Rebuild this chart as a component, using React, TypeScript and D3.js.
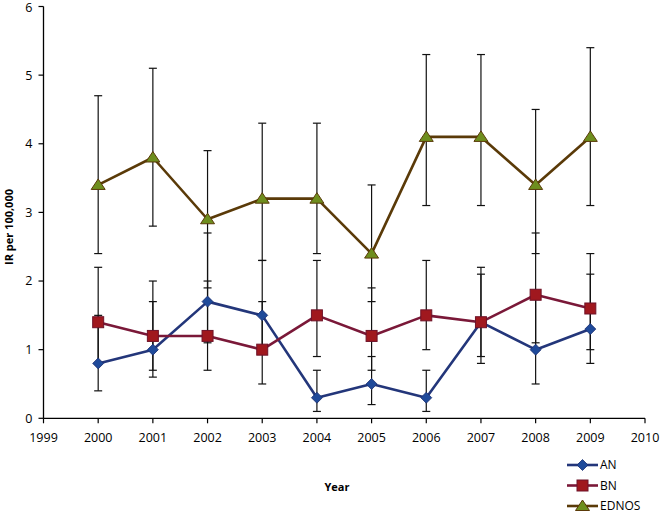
import React from "react";
import * as d3 from "d3";

const years = [2000, 2001, 2002, 2003, 2004, 2005, 2006, 2007, 2008, 2009];
const xTicks = [1999, 2000, 2001, 2002, 2003, 2004, 2005, 2006, 2007, 2008, 2009, 2010];
const yTicks = [0, 1, 2, 3, 4, 5, 6];

const anValues = [0.8, 1.0, 1.7, 1.5, 0.3, 0.5, 0.3, 1.4, 1.0, 1.3];
const anLow = [0.4, 0.6, 1.1, 1.0, 0.1, 0.2, 0.1, 0.8, 0.5, 0.8];
const anHigh = [1.5, 1.7, 2.7, 2.3, 0.7, 0.9, 0.7, 2.1, 1.8, 2.1];

const bnValues = [1.4, 1.2, 1.2, 1.0, 1.5, 1.2, 1.5, 1.4, 1.8, 1.6];
const bnLow = [0.8, 0.7, 0.7, 0.5, 0.9, 0.7, 1.0, 0.9, 1.1, 1.0];
const bnHigh = [2.2, 2.0, 2.0, 1.7, 2.3, 1.9, 2.3, 2.2, 2.7, 2.4];

const ednosValues = [3.4, 3.8, 2.9, 3.2, 3.2, 2.4, 4.1, 4.1, 3.4, 4.1];
const ednosLow = [2.4, 2.8, 1.9, 2.3, 2.4, 1.7, 3.1, 3.1, 2.4, 3.1];
const ednosHigh = [4.7, 5.1, 3.9, 4.3, 4.3, 3.4, 5.3, 5.3, 4.5, 5.4];

const seriesNames = ["AN", "BN", "EDNOS"];

const FONT = "'Open Sans', 'Noto Sans', sans-serif";

const x = d3.scaleLinear().domain([1999, 2010]).range([43.5, 645]);
const y = d3.scaleLinear().domain([0, 6]).range([418.3, 6.5]);

type S = {
  name: string;
  values: number[];
  low: number[];
  high: number[];
  line: string;
  fill: string;
  stroke: string;
  shape: "diamond" | "square" | "triangle";
};

const series: S[] = [
  { name: seriesNames[0], values: anValues, low: anLow, high: anHigh, line: "#23367a", fill: "#1f4a9a", stroke: "#1c2f70", shape: "diamond" },
  { name: seriesNames[1], values: bnValues, low: bnLow, high: bnHigh, line: "#7a1838", fill: "#a0181e", stroke: "#6e1228", shape: "square" },
  { name: seriesNames[2], values: ednosValues, low: ednosLow, high: ednosHigh, line: "#5a3a08", fill: "#6e8e1e", stroke: "#5a3a08", shape: "triangle" },
];

function Marker({ shape, cx, cy, fill, stroke }: { shape: string; cx: number; cy: number; fill: string; stroke: string }) {
  if (shape === "diamond") {
    const r = 5.5;
    return <path d={`M${cx},${cy - r}L${cx + r},${cy}L${cx},${cy + r}L${cx - r},${cy}Z`} fill={fill} stroke={stroke} strokeWidth={0.8} />;
  }
  if (shape === "square") {
    const r = 5.5;
    return <rect x={cx - r} y={cy - r} width={2 * r} height={2 * r} fill={fill} stroke={stroke} strokeWidth={1} />;
  }
  const w = 7, h = 10;
  return <path d={`M${cx},${cy - h * 0.6}L${cx + w},${cy + h * 0.45}L${cx - w},${cy + h * 0.45}Z`} fill={fill} stroke={stroke} strokeWidth={1} />;
}

export default function App() {
  const line = d3.line<number>().x((_, i) => x(years[i])).y((v) => y(v));
  const cap = 4;
  return (
    <svg width={661} height={514} style={{ position: "absolute", left: 0, top: 0, background: "#fff" }} fontFamily={FONT}>
      {/* axes */}
      <line x1={x(1999)} x2={x(2010)} y1={y(0)} y2={y(0)} stroke="#000" strokeWidth={1.3} />
      <line x1={x(1999)} x2={x(1999)} y1={y(0)} y2={y(6)} stroke="#000" strokeWidth={1.3} />
      {yTicks.map((t) => (
        <g key={"y" + t}>
          <line x1={x(1999) - 5} x2={x(1999)} y1={y(t)} y2={y(t)} stroke="#000" strokeWidth={1.2} />
          <text x={x(1999) - 11} y={Math.max(y(t), 8)} dy="0.35em" textAnchor="end" fontSize={12.5} fill="#000">{t}</text>
        </g>
      ))}
      {xTicks.map((t) => (
        <g key={"x" + t}>
          <line x1={x(t)} x2={x(t)} y1={y(0)} y2={y(0) + 5} stroke="#000" strokeWidth={1.2} />
          <text x={x(t)} y={y(0) + 24} textAnchor="middle" fontSize={12.5} fill="#000">{t}</text>
        </g>
      ))}
      <text transform={`translate(13,${227}) rotate(-90)`} textAnchor="middle" fontSize={11} fontWeight="bold" fill="#000">IR per 100,000</text>
      <text x={337} y={491} textAnchor="middle" fontSize={11} fontWeight="bold" fill="#000">Year</text>

      {/* error bars */}
      {series.map((s) =>
        years.map((yr, i) => (
          <g key={s.name + yr} stroke="#111" strokeWidth={1.2}>
            <line x1={x(yr)} x2={x(yr)} y1={y(s.low[i])} y2={y(s.high[i])} />
            <line x1={x(yr) - cap} x2={x(yr) + cap} y1={y(s.low[i])} y2={y(s.low[i])} />
            <line x1={x(yr) - cap} x2={x(yr) + cap} y1={y(s.high[i])} y2={y(s.high[i])} />
          </g>
        ))
      )}

      {/* lines */}
      {series.map((s) => (
        <path key={"l" + s.name} d={line(s.values) || ""} fill="none" stroke={s.line} strokeWidth={2.6} strokeLinejoin="round" />
      ))}
      {/* markers */}
      {series.map((s) =>
        s.values.map((v, i) => (
          <Marker key={s.name + "m" + i} shape={s.shape} cx={x(years[i])} cy={y(v)} fill={s.fill} stroke={s.stroke} />
        ))
      )}

      {/* legend */}
      {series.map((s, i) => {
        const ly = 465 + i * 20.5;
        return (
          <g key={"lg" + s.name}>
            <line x1={567} x2={598} y1={ly} y2={ly} stroke={s.line} strokeWidth={2.6} />
            <Marker shape={s.shape} cx={582.5} cy={ly} fill={s.fill} stroke={s.stroke} />
            <text x={600} y={ly} dy="0.35em" fontSize={12} fill="#000">{s.name}</text>
          </g>
        );
      })}
    </svg>
  );
}
